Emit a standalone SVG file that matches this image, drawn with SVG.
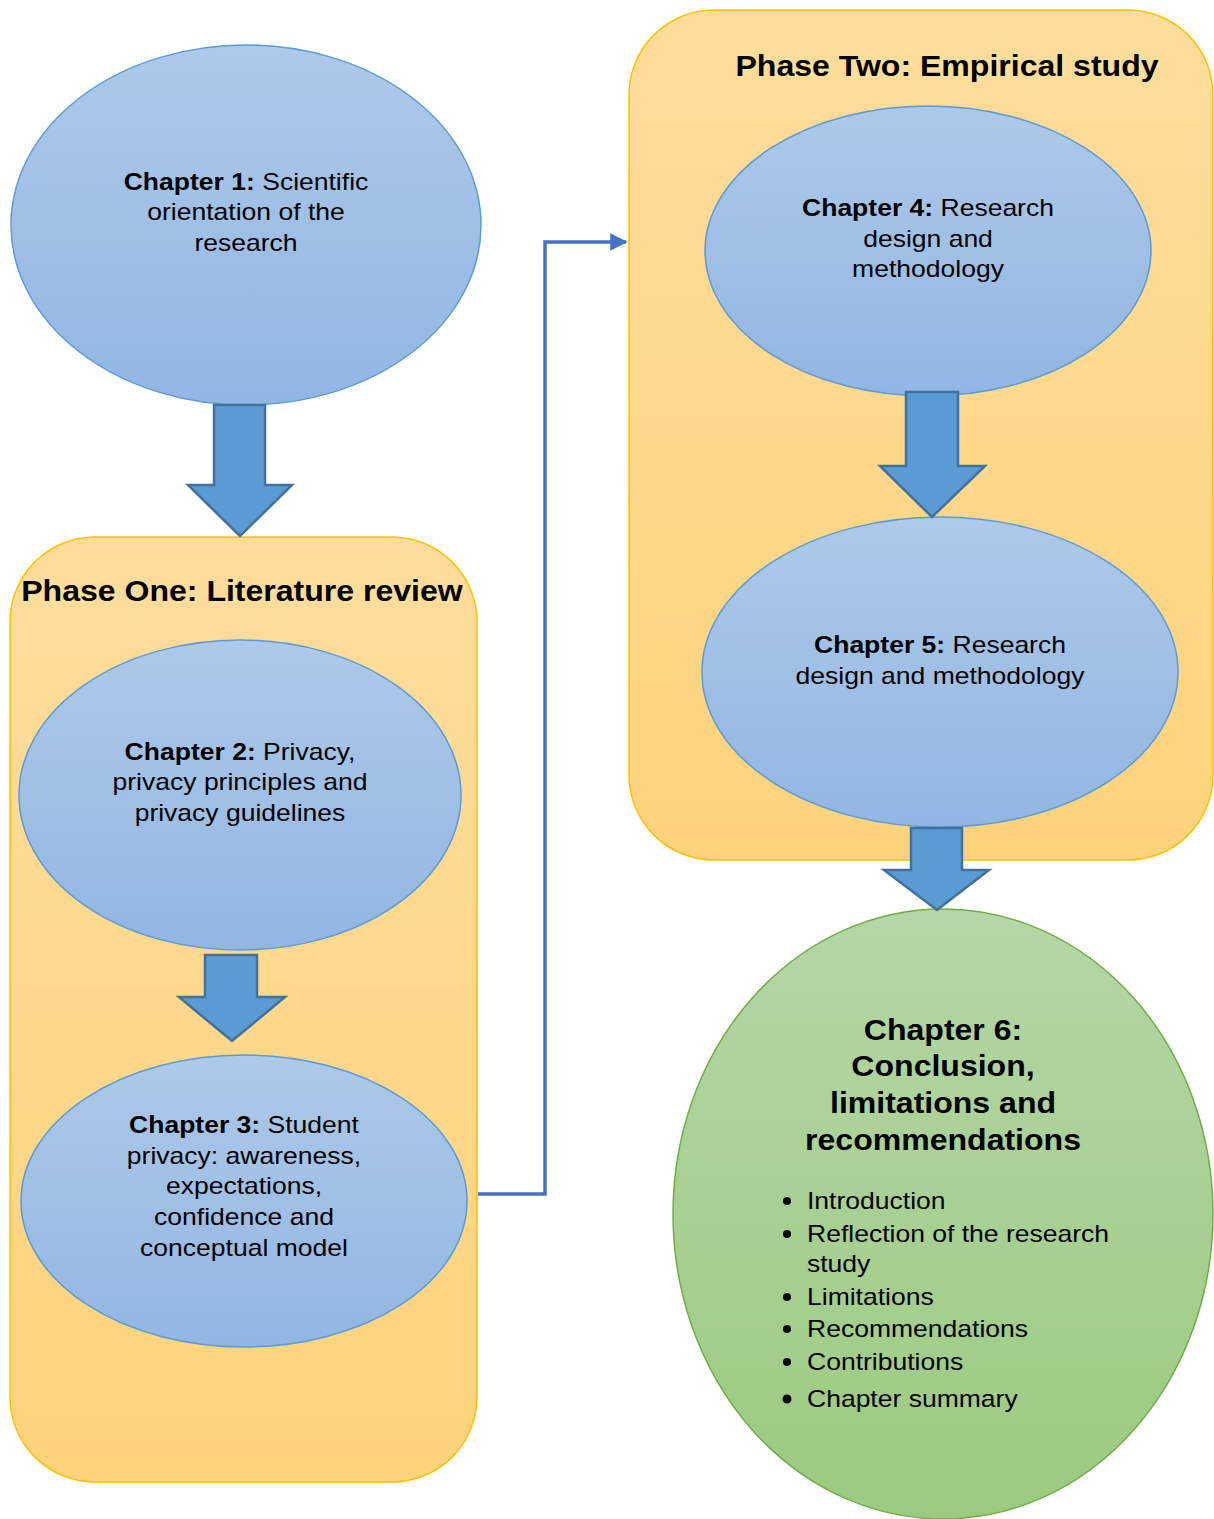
<svg xmlns="http://www.w3.org/2000/svg" width="1214" height="1519" viewBox="0 0 1214 1519">
  <defs>
    <linearGradient id="gBlue" x1="0" y1="0" x2="0" y2="1">
      <stop offset="0" stop-color="#aec9e9"/>
      <stop offset="1" stop-color="#92b6e2"/>
    </linearGradient>
    <linearGradient id="gGreen" x1="0" y1="0" x2="0" y2="1">
      <stop offset="0" stop-color="#b5d6a6"/>
      <stop offset="1" stop-color="#9cca80"/>
    </linearGradient>
    <linearGradient id="gOrange" x1="0" y1="0" x2="0" y2="1">
      <stop offset="0" stop-color="#fedd9c"/>
      <stop offset="1" stop-color="#fdd37c"/>
    </linearGradient>
    <marker id="arrowHead" viewBox="0 0 10 10" refX="9" refY="5" markerWidth="5" markerHeight="5" orient="auto" markerUnits="strokeWidth">
      <path d="M0,0 L10,5 L0,10 z" fill="#4472c4"/>
    </marker>
  </defs>
  <style>
    text { font-family: "Liberation Sans", Arial, sans-serif; fill: #000; }
    .body { font-size: 24px; text-anchor: middle; }
    .list { font-size: 24px; }
    .b { font-weight: bold; }
    .phaseTitle { font-size: 29px; font-weight: bold; text-anchor: middle; }
    .ch6 { font-size: 29px; font-weight: bold; text-anchor: middle; }
    .phase { fill: url(#gOrange); stroke: #ffc000; stroke-width: 1.5; }
    .blue { fill: url(#gBlue); stroke: #5b9bd5; stroke-width: 1.5; }
    .green { fill: url(#gGreen); stroke: #70ad47; stroke-width: 1.5; }
    .block { fill: #5b9bd5; stroke: #41719c; stroke-width: 2.5; stroke-linejoin: miter; }
    .link { fill: none; stroke: #4472c4; stroke-width: 3.5; }
  </style>

  <!-- phase containers; labels use a slightly widened type -->
  <g id="phase-two">
    <rect class="phase" x="629" y="10" width="584" height="850" rx="85" ry="85"/>
    <g transform="translate(947 0) scale(1.105 1)">
      <text class="phaseTitle" x="0" y="76">Phase Two: Empirical study</text>
    </g>
  </g>
  <g id="phase-one">
    <rect class="phase" x="10" y="537" width="467" height="945" rx="85" ry="85"/>
    <g transform="translate(242 0) scale(1.105 1)">
      <text class="phaseTitle" x="0" y="601">Phase One: Literature review</text>
    </g>
  </g>

  <!-- chapter nodes -->
  <g id="chapter-1">
    <ellipse class="blue" cx="246" cy="225" rx="235" ry="180"/>
    <g transform="translate(246 0) scale(1.105 1)">
      <text class="body" x="0" y="190"><tspan class="b">Chapter 1:</tspan> Scientific</text>
      <text class="body" x="0" y="220">orientation of the</text>
      <text class="body" x="0" y="251">research</text>
    </g>
  </g>
  <g id="chapter-2">
    <ellipse class="blue" cx="240" cy="795" rx="221" ry="155"/>
    <g transform="translate(240 0) scale(1.105 1)">
      <text class="body" x="0" y="760"><tspan class="b">Chapter 2:</tspan> Privacy,</text>
      <text class="body" x="0" y="790">privacy principles and</text>
      <text class="body" x="0" y="821">privacy guidelines</text>
    </g>
  </g>
  <g id="chapter-3">
    <ellipse class="blue" cx="244" cy="1201" rx="223" ry="146"/>
    <g transform="translate(244 0) scale(1.105 1)">
      <text class="body" x="0" y="1133"><tspan class="b">Chapter 3:</tspan> Student</text>
      <text class="body" x="0" y="1164">privacy: awareness,</text>
      <text class="body" x="0" y="1194">expectations,</text>
      <text class="body" x="0" y="1225">confidence and</text>
      <text class="body" x="0" y="1256">conceptual model</text>
    </g>
  </g>
  <g id="chapter-4">
    <ellipse class="blue" cx="928" cy="251" rx="223" ry="145"/>
    <g transform="translate(928 0) scale(1.105 1)">
      <text class="body" x="0" y="216"><tspan class="b">Chapter 4:</tspan> Research</text>
      <text class="body" x="0" y="247">design and</text>
      <text class="body" x="0" y="277">methodology</text>
    </g>
  </g>
  <g id="chapter-5">
    <ellipse class="blue" cx="940" cy="672" rx="238" ry="155"/>
    <g transform="translate(940 0) scale(1.105 1)">
      <text class="body" x="0" y="653"><tspan class="b">Chapter 5:</tspan> Research</text>
      <text class="body" x="0" y="684">design and methodology</text>
    </g>
  </g>
  <g id="chapter-6">
    <ellipse class="green" cx="943" cy="1214" rx="270" ry="305"/>
    <g transform="translate(943 0) scale(1.105 1)">
      <text class="ch6" x="0" y="1040">Chapter 6:</text>
      <text class="ch6" x="0" y="1076">Conclusion,</text>
      <text class="ch6" x="0" y="1113">limitations and</text>
      <text class="ch6" x="0" y="1150">recommendations</text>
    </g>
    <circle cx="787" cy="1201" r="4"/>
    <circle cx="787" cy="1234" r="4"/>
    <circle cx="787" cy="1297" r="4"/>
    <circle cx="787" cy="1329" r="4"/>
    <circle cx="787" cy="1362" r="4"/>
    <circle cx="787" cy="1399" r="4.5"/>
    <g class="list" transform="translate(807 0) scale(1.105 1)">
      <text x="0" y="1209">Introduction</text>
      <text x="0" y="1242">Reflection of the research</text>
      <text x="0" y="1272">study</text>
      <text x="0" y="1305">Limitations</text>
      <text x="0" y="1337">Recommendations</text>
      <text x="0" y="1370">Contributions</text>
      <text x="0" y="1407">Chapter summary</text>
    </g>
  </g>

  <!-- connectors -->
  <g id="connectors">
    <path class="block" d="M214,405 H265 V485 H292 L240,536 L188,485 H214 Z"/>
    <path class="block" d="M205,955 H257 V997 H285 L232,1041 L179,997 H205 Z"/>
    <path class="block" d="M906,392 H958 V466 H985 L932,517 L880,466 H906 Z"/>
    <path class="block" d="M911,828 H962 V870 H989 L937,910 L884,870 H911 Z"/>
    <path class="link" d="M478,1194 H545 V242 H626" marker-end="url(#arrowHead)"/>
  </g>
</svg>
